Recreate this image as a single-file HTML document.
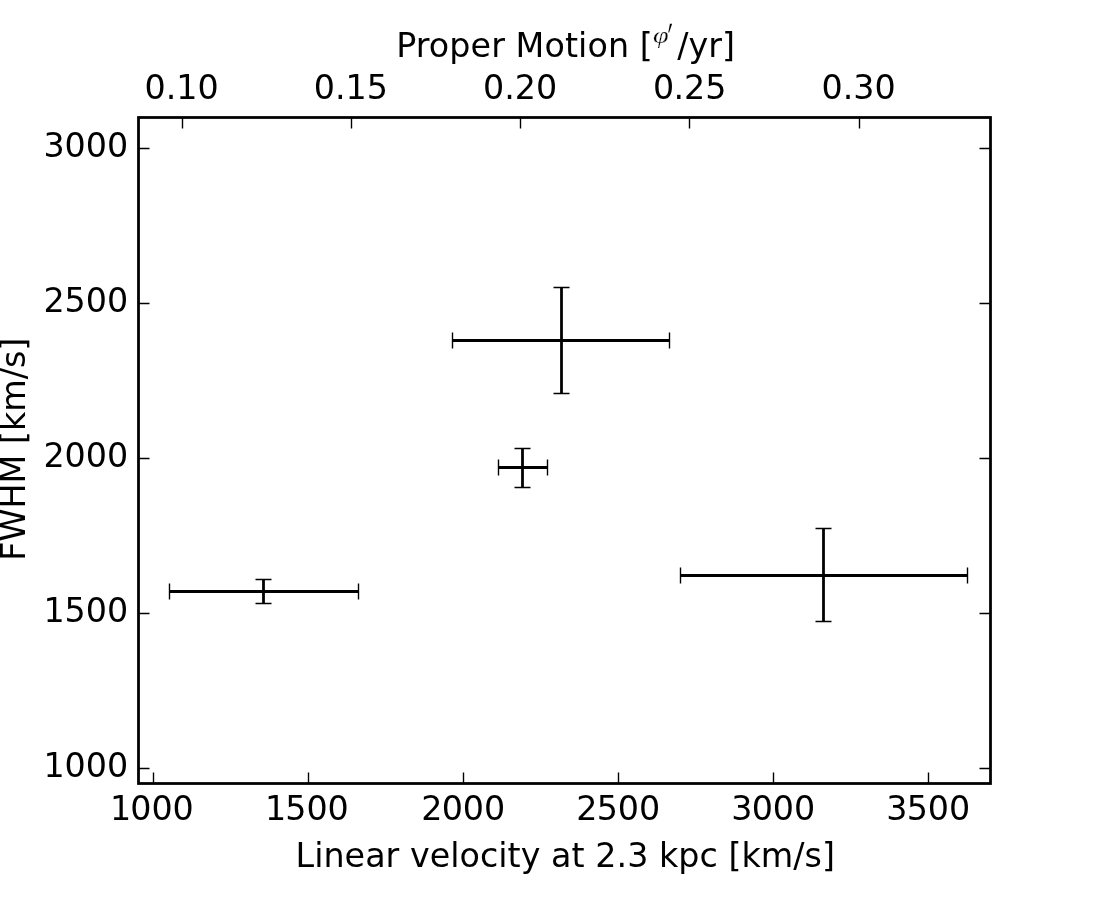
<!DOCTYPE html>
<html lang="en"><head><meta charset="utf-8"><title>FWHM vs linear velocity</title>
<style>
html,body{margin:0;padding:0;background:#fff;}
body{width:1100px;height:900px;overflow:hidden;}
svg{display:block;}
text{font-family:"DejaVu Sans","Liberation Sans",sans-serif;font-size:33.333px;fill:#000;}
.m{text-anchor:middle}.e{text-anchor:end}
.fr{fill:none;stroke:#000;stroke-width:2.78;stroke-linejoin:miter;stroke-linecap:square}
.tk{stroke:#000;stroke-width:1.39;fill:none;stroke-linecap:butt}
.eb{stroke:#000;stroke-width:2.78;fill:none;stroke-linecap:butt}
.cp{stroke:#000;stroke-width:1.39;fill:none;stroke-linecap:butt}
.phi{font-family:"Liberation Serif","DejaVu Serif",serif;font-style:italic;font-size:22.26px;stroke:#fff;stroke-width:0.22px}
.pr{font-family:"Liberation Serif","DejaVu Serif",serif;font-size:37.2px}
</style></head><body>
<svg width="1100" height="900" viewBox="0 0 1100 900">
<rect x="0" y="0" width="1100" height="900" fill="#fff"/>
<g id="errorbars">
<path class="eb" d="M169.5 591.5H358.5M263.5 579.5V603.5"/>
<path class="cp" d="M169.5 583.5v16.0M358.5 583.5v16.0M255.5 579.5h16.0M255.5 603.5h16.0"/>
<path class="eb" d="M452.5 340.5H669.5M561.5 287.5V393.5"/>
<path class="cp" d="M452.5 332.5v16.0M669.5 332.5v16.0M553.5 287.5h16.0M553.5 393.5h16.0"/>
<path class="eb" d="M498.5 467.5H547.5M522.5 448.5V487.5"/>
<path class="cp" d="M498.5 459.5v16.0M547.5 459.5v16.0M514.5 448.5h16.0M514.5 487.5h16.0"/>
<path class="eb" d="M680.5 575.5H967.5M823.5 528.5V621.5"/>
<path class="cp" d="M680.5 567.5v16.0M967.5 567.5v16.0M815.5 528.5h16.0M815.5 621.5h16.0"/>
</g>
<g id="ticks">
<path class="tk" d="M153.50 783.50v-11.00M308.50 783.50v-11.00M463.50 783.50v-11.00M618.50 783.50v-11.00M773.50 783.50v-11.00M928.50 783.50v-11.00M138.50 768.50h11.00M990.50 768.50h-11.00M138.50 613.50h11.00M990.50 613.50h-11.00M138.50 458.50h11.00M990.50 458.50h-11.00M138.50 303.50h11.00M990.50 303.50h-11.00M138.50 148.50h11.00M990.50 148.50h-11.00M182.50 117.50v11.00M351.50 117.50v11.00M520.50 117.50v11.00M689.50 117.50v11.00M859.50 117.50v11.00"/>
</g>
<rect class="fr" x="138.50" y="117.50" width="852.00" height="666.00"/>
<g id="xticklabels">
<text x="109.9 130.2 151.4 172.6" y="819.70">1000</text>
<text x="264.9 285.2 306.4 327.6" y="819.70">1500</text>
<text x="421.3 441.7 462.7 483.9" y="819.70">2000</text>
<text x="576.3 596.7 617.7 638.9" y="819.70">2500</text>
<text x="731.3 751.7 772.7 793.9" y="819.70">3000</text>
<text x="886.3 906.7 927.7 948.9" y="819.70">3500</text>
</g><g id="yticklabels">
<text x="43.6 64.5 85.7 106.9" y="776.95">1000</text>
<text x="43.6 64.5 85.7 106.9" y="621.95">1500</text>
<text x="43.6 64.5 85.7 106.9" y="466.95">2000</text>
<text x="43.6 64.5 85.7 106.9" y="311.95">2500</text>
<text x="43.6 64.5 85.7 106.9" y="156.95">3000</text>
</g><g id="topticklabels">
<text x="144.5 165.7 176.3 197.5" y="98.70">0.10</text>
<text x="313.8 334.9 345.6 366.8" y="98.70">0.15</text>
<text x="483.0 504.2 514.8 536.0" y="98.70">0.20</text>
<text x="653.0 673.5 684.0 705.2" y="98.70">0.25</text>
<text x="821.5 842.7 853.3 874.5" y="98.70">0.30</text>
</g>
<text class="m" x="565.3" y="866.85" textLength="539.45" lengthAdjust="spacing">Linear velocity at 2.3 kpc [km/s]</text>
<text class="m" transform="translate(25.0 449.2) rotate(-90)">FWHM [km/s]</text>
<g id="toplabel">
<text x="396.15" y="56.96" textLength="256.7" lengthAdjust="spacing">Proper Motion [</text>
<text class="phi" transform="translate(652.9 43.3) scale(1.27 1)">φ</text>
<text class="pr" transform="translate(665.2 47.6) skewX(-7) scale(0.62 1)">′</text>
<text x="677.34" y="56.96">/yr]</text>
</g>
</svg></body></html>
